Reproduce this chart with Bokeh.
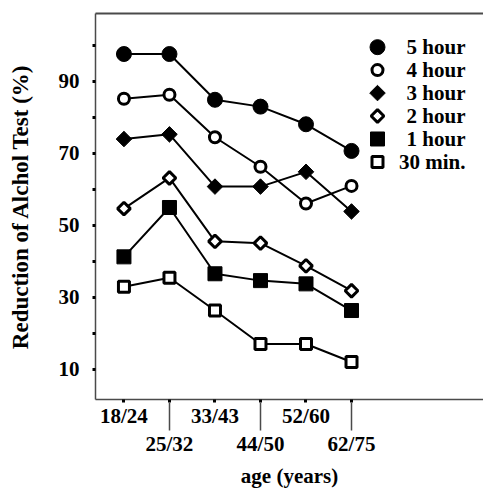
import math
from bokeh.plotting import figure
from bokeh.models import FixedTicker, LinearAxis, Range1d
from bokeh.core.properties import value
from bokeh.embed import file_html
from bokeh.resources import INLINE

# ---- data ----
ages = ["18/24", "25/32", "33/43", "44/50", "52/60", "62/75"]
series_names = ["5 hour", "4 hour", "3 hour", "2 hour", "1 hour", "30 min."]
v_5h = [97.5, 97.5, 84.8, 82.9, 78.0, 70.6]
v_4h = [85.1, 86.2, 74.4, 66.2, 56.0, 60.9]
v_3h = [73.9, 75.2, 60.7, 60.7, 64.8, 53.8]
v_2h = [54.6, 63.1, 45.5, 45.0, 38.7, 31.8]
v_1h = [41.2, 54.9, 36.5, 34.6, 33.7, 26.3]
v_30m = [32.9, 35.4, 26.3, 17.0, 17.0, 12.0]
y_major = [10, 30, 50, 70, 90]
y_minor = [20, 40, 60, 80, 100]

FONT = "Liberation Serif"
AX = "#4a4a4a"

xs = list(range(len(ages)))

p = figure(width=483, height=490, x_range=(-0.625, 7.9), y_range=(1.6, 108.75),
           output_backend="svg", toolbar_location=None,
           min_border_left=95, min_border_right=0, min_border_top=13, min_border_bottom=87)
p.grid.visible = False
p.outline_line_color = None
p.background_fill_color = "white"

# pixel-space ranges for the hand-made legend (frame spans 95..483 x 13..403)
p.extra_x_ranges = {"lx": Range1d(95, 483)}
p.extra_y_ranges = {"ly": Range1d(403, 13)}

# y axis
ya = p.yaxis[0]
ya.ticker = FixedTicker(ticks=y_major, minor_ticks=y_minor)
ya.axis_line_color = AX
ya.axis_line_width = 1.5
for pre in ("major", "minor"):
    setattr(ya, pre + "_tick_out", 3)
    setattr(ya, pre + "_tick_in", 0)
    setattr(ya, pre + "_tick_line_width", 3)
    setattr(ya, pre + "_tick_line_color", "black")
ya.major_label_standoff = 13
ya.major_label_text_font = FONT
ya.major_label_text_font_style = "bold"
ya.major_label_text_font_size = "21px"
ya.major_label_text_color = "black"
ya.axis_label = "Reduction of Alchol Test (%)"
ya.axis_label_text_font = FONT
ya.axis_label_text_font_style = "bold"
ya.axis_label_text_font_size = "23px"
ya.axis_label_text_color = "black"
ya.axis_label_standoff = 23

# x axis A (upper row labels: even categories)
even = [i for i in xs if i % 2 == 0]
odd = [i for i in xs if i % 2 == 1]
xa = p.xaxis[0]
xa.ticker = FixedTicker(ticks=even, minor_ticks=odd)
xa.major_label_overrides = {i: ages[i] for i in even}
xa.axis_line_color = AX
xa.axis_line_width = 1.5
for pre in ("major", "minor"):
    setattr(xa, pre + "_tick_out", 3)
    setattr(xa, pre + "_tick_in", 0)
    setattr(xa, pre + "_tick_line_width", 3)
    setattr(xa, pre + "_tick_line_color", "black")
xa.major_label_standoff = 1
xa.major_label_text_font = FONT
xa.major_label_text_font_style = "bold"
xa.major_label_text_font_size = "21px"
xa.major_label_text_color = "black"

# x axis B (lower row labels: odd categories, long ticks)
xb = LinearAxis(ticker=FixedTicker(ticks=odd, minor_ticks=[]))
xb.major_label_overrides = {i: ages[i] for i in odd}
xb.axis_line_color = None
xb.major_tick_out = 0
xb.major_tick_in = 28
xb.major_tick_line_width = 1.5
xb.major_tick_line_color = AX
xb.minor_tick_out = 0
xb.minor_tick_in = 0
xb.major_label_standoff = 1
xb.major_label_text_font = FONT
xb.major_label_text_font_style = "bold"
xb.major_label_text_font_size = "21px"
xb.major_label_text_color = "black"
xb.axis_label = "age (years)"
xb.axis_label_text_font = FONT
xb.axis_label_text_font_style = "bold"
xb.axis_label_text_font_size = "21px"
xb.axis_label_text_color = "black"
xb.axis_label_standoff = 5
p.add_layout(xb, "below")

# top border line
top = LinearAxis(ticker=FixedTicker(ticks=[], minor_ticks=[]))
top.major_tick_out = 0
top.major_tick_in = 0
top.minor_tick_out = 0
top.minor_tick_in = 0
top.major_label_text_font_size = "0px"
top.major_label_standoff = 0
top.axis_line_color = AX
top.axis_line_width = 2
p.add_layout(top, "above")

# series
series = [v_5h, v_4h, v_3h, v_2h, v_1h, v_30m]
styles = [
    dict(marker="circle", size=15, fill_color="black", line_color="black", line_width=1, angle=0),
    dict(marker="circle", size=11, fill_color="white", line_color="black", line_width=3, angle=0),
    dict(marker="square", size=11, fill_color="black", line_color="black", line_width=1, angle=math.pi / 4),
    dict(marker="square", size=9, fill_color="white", line_color="black", line_width=3, angle=math.pi / 4),
    dict(marker="square", size=14, fill_color="black", line_color="black", line_width=1, angle=0),
    dict(marker="square", size=11, fill_color="white", line_color="black", line_width=3, angle=0),
]

for vals, st in zip(series, styles):
    p.line(xs, vals, line_color="black", line_width=2)
    p.scatter(xs, vals, **st)

# legend (markers + labels), laid out in pixel space
LEG_MARK_X = 377
LEG_TEXT_X = 465
LEG_Y0 = 47
LEG_DY = 23.2
for k, (name, st) in enumerate(zip(series_names, styles)):
    yk = LEG_Y0 + k * LEG_DY
    p.scatter([LEG_MARK_X], [yk], x_range_name="lx", y_range_name="ly", **st)
    p.text([LEG_TEXT_X], [yk], text=[name], x_range_name="lx", y_range_name="ly",
           text_align="right", text_baseline="middle", text_font=value(FONT),
           text_font_style="bold", text_font_size="21px", text_color="black")

open("out.html", "w").write(file_html(p, INLINE))
